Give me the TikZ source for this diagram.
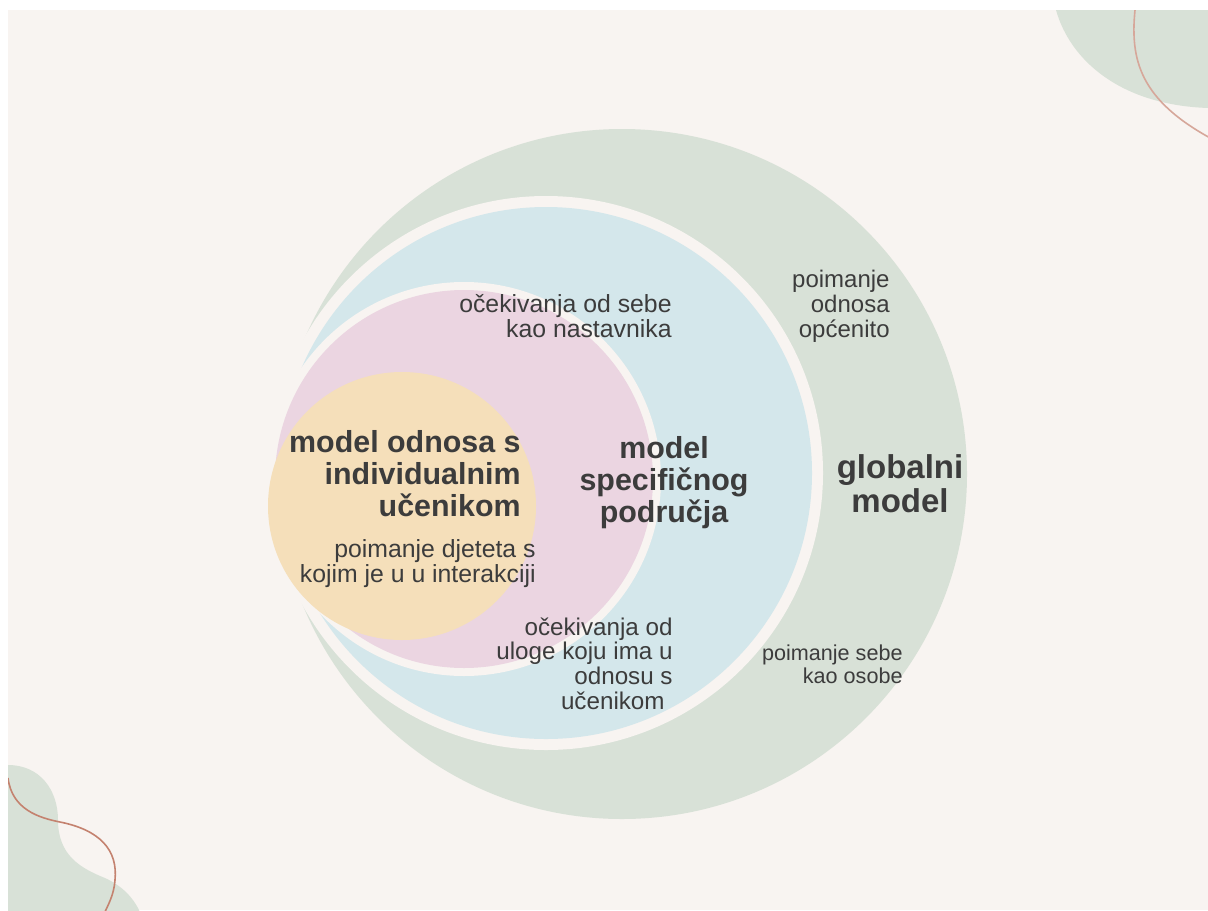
\documentclass[tikz,border=0pt]{standalone}
\usepackage{fontspec}
\setmainfont{Liberation Sans}
\usepackage{color}
\usepackage{tikz}
\usetikzlibrary{positioning}
\newcommand{\TikZscale}{0.5}
\newcommand{\px}{*\TikZscale pt}
\definecolor{bg}{HTML}{F8F4F1}
\definecolor{salbei}{HTML}{D8E1D7}
\definecolor{hellblau}{HTML}{D4E7EB}
\definecolor{rosa}{HTML}{EBD5E1}
\definecolor{sand}{HTML}{F5DFBA}
\definecolor{kupfer}{HTML}{C4826F}
\definecolor{tinte}{HTML}{3C3C3C}
\tikzset{every picture/.style={auto, node distance=5\px}}
\tikzstyle{luecke}	= [fill=bg]
\tikzstyle{welle}	= [draw=kupfer, line width=1.6\px]
\tikzstyle{titel}	= [inner sep=0pt, text=tinte, align=right, font=\bfseries\fontsize{15.2}{16}\selectfont]
\tikzstyle{notiz}	= [inner sep=0pt, text=tinte, align=right, font=\fontsize{12.4}{12.4}\selectfont]

\begin{document}
\begin{tikzpicture}[yscale=-1]
	% Rahmen
	\useasboundingbox (0,0) rectangle (1208\px,910\px);
	\fill[white] (0,0) rectangle (1208\px,910\px);
	\fill[bg] (8\px,10\px) rectangle (1208\px,910\px);

	% Ecken
	\begin{scope}
		\clip (8\px,10\px) rectangle (1208\px,910\px);
		\fill[salbei] (1056\px,10\px) .. controls (1070\px,60\px) and (1120\px,105\px) .. (1208\px,108\px) -- (1208\px,10\px) -- cycle;
		\draw[welle, draw=kupfer!70] (1135\px,10\px) .. controls (1130\px,60\px) and (1140\px,100\px) .. (1212\px,139\px);
		\fill[salbei] (8\px,765\px) .. controls (40\px,765\px) and (58\px,790\px) .. (58\px,820\px)
			.. controls (58\px,855\px) and (80\px,868\px) .. (105\px,878\px)
			.. controls (120\px,885\px) and (132\px,895\px) .. (140\px,912\px) -- (8\px,912\px) -- cycle;
		\draw[welle] (8\px,778\px) .. controls (12\px,810\px) and (40\px,818\px) .. (60\px,822\px)
			.. controls (100\px,830\px) and (118\px,850\px) .. (115\px,880\px)
			.. controls (114\px,895\px) and (108\px,905\px) .. (104\px,914\px);
	\end{scope}

	% Ringe
	\fill[salbei] (622\px,474\px) circle (345\px);
	\fill[luecke] (546\px,473\px) circle (277\px);
	\fill[hellblau] (546\px,473\px) circle (266\px);
	\fill[luecke] (464\px,479\px) circle (197\px);
	\fill[rosa] (464\px,479\px) circle (189\px);
	\fill[sand] (402\px,506\px) circle (134\px);

	% Beschriftung (base = letzte Zeile)
	\node[titel, anchor=base east] (individualni) at (521\px,516\px) {model odnosa s\\individualnim\\učenikom};
	\node[notiz, anchor=base east] (dijete) at (536\px,582\px) {poimanje djeteta s\\kojim je u u interakciji};
	\node[titel, align=center, anchor=base] (specificni) at (664\px,522\px) {model\\specifičnog\\područja};
	\node[titel, align=center, anchor=base, font=\bfseries\fontsize{16.5}{17}\selectfont] (globalni) at (900\px,512\px) {globalni\\model};
	\node[notiz, anchor=base east] (nastavnik) at (672\px,337\px) {očekivanja od sebe\\kao nastavnika};
	\node[notiz, anchor=base east, font=\fontsize{12}{12.5}\selectfont] (opcenito) at (890\px,337\px) {poimanje\\odnosa\\općenito};
	\node[notiz, anchor=base east, font=\fontsize{12.1}{12.3}\selectfont] (uloga) at (673\px,709\px) {očekivanja od\\uloge koju ima u\\odnosu s\\učenikom\hspace*{4pt}};
	\node[notiz, anchor=base east, font=\fontsize{10.8}{10}\selectfont] (osoba) at (903\px,683\px) {poimanje sebe\\kao osobe};
\end{tikzpicture}
\end{document}
